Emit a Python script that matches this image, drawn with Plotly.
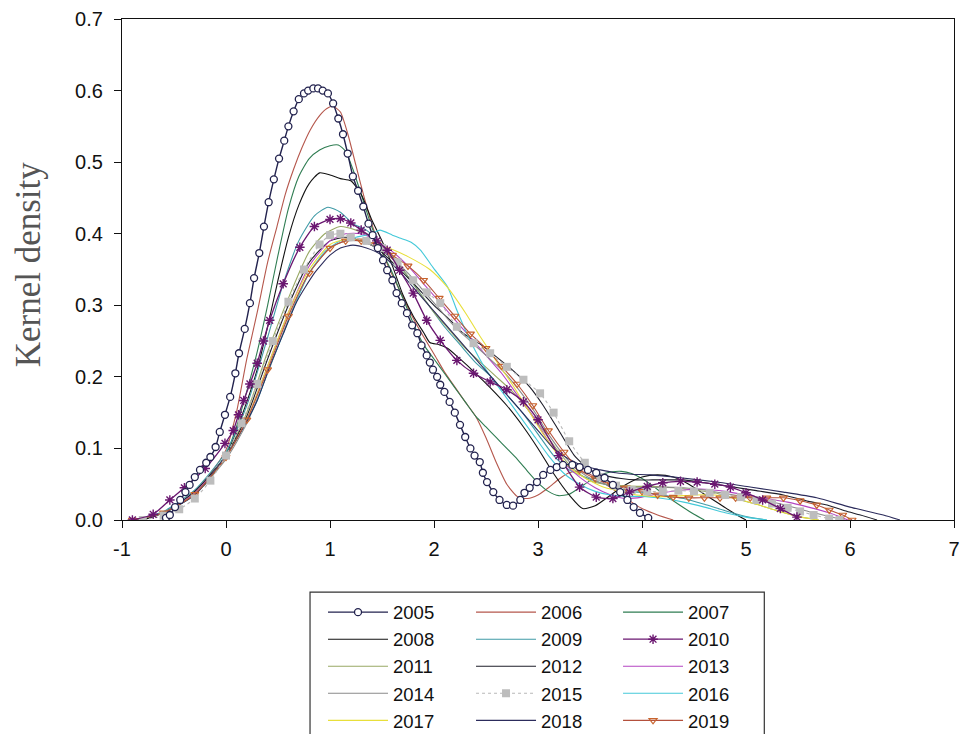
import plotly.graph_objects as go

YEARS = ["2005", "2006", "2007", "2008", "2009", "2010", "2011", "2012",
         "2013", "2014", "2015", "2016", "2017", "2018", "2019"]

X_2005 = [-0.577, -0.54, -0.49, -0.44, -0.39, -0.35, -0.30, -0.25, -0.19, -0.15, -0.10, -0.06, -0.01, 0.04, 0.09,
          0.125, 0.18, 0.23, 0.27, 0.32, 0.365, 0.41, 0.46, 0.51, 0.56, 0.60, 0.65, 0.70, 0.75, 0.79, 0.84, 0.885,
          0.93, 0.98, 1.03, 1.08, 1.125, 1.17, 1.22, 1.27, 1.32, 1.37, 1.41, 1.46, 1.51, 1.55, 1.60, 1.64, 1.69,
          1.74, 1.79, 1.84, 1.88, 1.93, 1.96, 1.99, 2.03, 2.06, 2.10, 2.15, 2.20, 2.25, 2.30, 2.35, 2.39, 2.44,
          2.47, 2.51, 2.57, 2.63, 2.70, 2.76, 2.83, 2.87, 2.92, 2.99, 3.05, 3.12, 3.18, 3.24, 3.33, 3.40, 3.48,
          3.56, 3.64, 3.72, 3.79, 3.86, 3.92, 3.98, 4.06]
Y_2005 = [0.003, 0.007, 0.018, 0.028, 0.039, 0.049, 0.060, 0.070, 0.080, 0.088, 0.102, 0.123, 0.147, 0.172, 0.205,
          0.233, 0.267, 0.303, 0.338, 0.373, 0.410, 0.444, 0.476, 0.505, 0.530, 0.550, 0.571, 0.588, 0.596, 0.600,
          0.603, 0.603, 0.600, 0.596, 0.582, 0.561, 0.539, 0.512, 0.480, 0.460, 0.438, 0.414, 0.398, 0.380, 0.363,
          0.349, 0.335, 0.317, 0.303, 0.289, 0.272, 0.261, 0.244, 0.230, 0.220, 0.210, 0.200, 0.189, 0.179, 0.165,
          0.150, 0.133, 0.116, 0.100, 0.090, 0.081, 0.066, 0.053, 0.039, 0.028, 0.021, 0.020, 0.028, 0.038, 0.045,
          0.053, 0.063, 0.070, 0.074, 0.077, 0.077, 0.074, 0.070, 0.066, 0.059, 0.049, 0.039, 0.028, 0.018, 0.010,
          0.003]

X_2006 = [-0.8, -0.6, -0.4, -0.2, 0.0, 0.1, 0.2, 0.3, 0.4, 0.49, 0.57, 0.65, 0.73, 0.81, 0.9, 0.97, 1.03, 1.1,
          1.17, 1.25, 1.33, 1.41, 1.5, 1.6, 1.7, 1.8, 1.9, 2.0, 2.1, 2.2, 2.3, 2.4, 2.5, 2.6, 2.7, 2.8, 2.9, 3.0,
          3.1, 3.2, 3.3, 3.4, 3.5, 3.6, 3.7, 3.8, 3.9, 4.0, 4.15, 4.3]
Y_2006 = [0.0, 0.01, 0.028, 0.055, 0.098, 0.15, 0.225, 0.29, 0.36, 0.41, 0.455, 0.49, 0.52, 0.545, 0.565, 0.575,
          0.578, 0.57, 0.54, 0.495, 0.45, 0.41, 0.375, 0.342, 0.312, 0.282, 0.256, 0.232, 0.207, 0.186, 0.165,
          0.145, 0.115, 0.08, 0.05, 0.033, 0.03, 0.035, 0.045, 0.057, 0.066, 0.068, 0.064, 0.055, 0.045, 0.035,
          0.025, 0.016, 0.007, 0.0]

X_2007 = [-0.8, -0.6, -0.4, -0.2, 0.0, 0.1, 0.2, 0.3, 0.4, 0.5, 0.6, 0.7, 0.8, 0.9, 1.0, 1.08, 1.15, 1.22, 1.3,
          1.4, 1.5, 1.6, 1.7, 1.8, 1.9, 2.0, 2.1, 2.2, 2.3, 2.4, 2.5, 2.6, 2.7, 2.8, 2.9, 3.0, 3.1, 3.2, 3.3, 3.4,
          3.5, 3.6, 3.7, 3.8, 3.9, 4.0, 4.1, 4.2, 4.35, 4.5, 4.6]
Y_2007 = [0.0, 0.01, 0.027, 0.052, 0.092, 0.13, 0.18, 0.235, 0.3, 0.37, 0.435, 0.48, 0.505, 0.517, 0.523, 0.524,
          0.515, 0.49, 0.455, 0.41, 0.375, 0.345, 0.31, 0.275, 0.245, 0.225, 0.205, 0.185, 0.165, 0.145, 0.13,
          0.115, 0.1, 0.085, 0.068, 0.052, 0.04, 0.034, 0.036, 0.045, 0.055, 0.063, 0.067, 0.068, 0.065, 0.058,
          0.048, 0.037, 0.022, 0.008, 0.0]

X_2008 = [-0.8, -0.6, -0.4, -0.2, 0.0, 0.1, 0.2, 0.3, 0.4, 0.5, 0.6, 0.7, 0.8, 0.9, 1.0, 1.1, 1.2, 1.3, 1.4, 1.5,
          1.6, 1.7, 1.8, 1.9, 1.96, 2.05, 2.13, 2.25, 2.4, 2.54, 2.7, 2.86, 3.0, 3.15, 3.3, 3.43, 3.55, 3.7, 3.85,
          4.0, 4.15, 4.3, 4.45, 4.6, 4.75, 4.9, 5.0]
Y_2008 = [0.0, 0.01, 0.026, 0.05, 0.09, 0.125, 0.165, 0.21, 0.27, 0.335, 0.395, 0.44, 0.47, 0.485, 0.482, 0.477,
          0.474, 0.455, 0.42, 0.39, 0.355, 0.315, 0.285, 0.262, 0.248, 0.245, 0.24, 0.225, 0.205, 0.185, 0.16,
          0.13, 0.1, 0.065, 0.035, 0.016, 0.02, 0.035, 0.05, 0.06, 0.063, 0.06, 0.05, 0.036, 0.022, 0.008, 0.0]

X_2009 = [-0.9, -0.6, -0.3, 0.0, 0.2, 0.4, 0.55, 0.7, 0.85, 0.98, 1.1, 1.22, 1.35, 1.5, 1.65, 1.8, 1.95, 2.1,
          2.25, 2.4, 2.55, 2.7, 2.85, 3.0, 3.15, 3.3, 3.45, 3.6, 3.75, 3.9, 4.05, 4.2, 4.4, 4.6, 4.8, 5.0, 5.2]
Y_2009 = [0.0, 0.012, 0.042, 0.095, 0.16, 0.255, 0.33, 0.39, 0.425, 0.437, 0.43, 0.414, 0.405, 0.385, 0.36,
          0.33, 0.3, 0.27, 0.245, 0.22, 0.2, 0.175, 0.15, 0.12, 0.09, 0.07, 0.06, 0.052, 0.045, 0.04, 0.038,
          0.035, 0.03, 0.022, 0.013, 0.005, 0.0]

X_2010 = [-0.9, -0.7, -0.54, -0.4, -0.2, -0.01, 0.07, 0.12, 0.17, 0.23, 0.3, 0.36, 0.42, 0.55, 0.71, 0.85, 1.0,
          1.1, 1.2, 1.3, 1.45, 1.55, 1.67, 1.8, 1.93, 2.06, 2.22, 2.38, 2.54, 2.7, 2.86, 3.0, 3.2, 3.4, 3.56,
          3.72, 3.88, 4.05, 4.2, 4.37, 4.53, 4.7, 4.85, 5.0, 5.16, 5.33, 5.49]
Y_2010 = [0.0, 0.008, 0.028, 0.045, 0.072, 0.107, 0.125, 0.147, 0.167, 0.19, 0.219, 0.25, 0.279, 0.33, 0.381,
          0.41, 0.42, 0.421, 0.415, 0.405, 0.39, 0.377, 0.349, 0.317, 0.279, 0.251, 0.223, 0.205, 0.193, 0.182,
          0.165, 0.14, 0.09, 0.046, 0.032, 0.03, 0.039, 0.047, 0.052, 0.054, 0.053, 0.05, 0.046, 0.038, 0.028,
          0.016, 0.004]

X_2011 = [-0.9, -0.6, -0.3, 0.0, 0.2, 0.4, 0.6, 0.8, 0.95, 1.1, 1.25, 1.4, 1.55, 1.7, 1.85, 2.0, 2.15, 2.3, 2.45,
          2.6, 2.75, 2.9, 3.05, 3.2, 3.35, 3.5, 3.65, 3.8, 3.95, 4.1, 4.3, 4.5, 4.7, 4.9, 5.1, 5.3, 5.5, 5.7]
Y_2011 = [0.0, 0.01, 0.038, 0.09, 0.15, 0.235, 0.31, 0.375, 0.4, 0.41, 0.405, 0.395, 0.375, 0.35, 0.32, 0.29,
          0.265, 0.24, 0.22, 0.2, 0.18, 0.155, 0.125, 0.095, 0.07, 0.055, 0.05, 0.048, 0.047, 0.047, 0.045, 0.042,
          0.038, 0.03, 0.022, 0.013, 0.005, 0.0]

X_2012 = [-0.9, -0.6, -0.3, 0.0, 0.2, 0.4, 0.6, 0.8, 1.0, 1.15, 1.3, 1.45, 1.6, 1.8, 2.0, 2.15, 2.28, 2.45, 2.6,
          2.75, 2.92, 3.05, 3.2, 3.35, 3.5, 3.65, 3.8, 3.95, 4.1, 4.25, 4.4, 4.6, 4.88, 5.1, 5.36, 5.6, 5.78,
          5.95, 6.1, 6.26]
Y_2012 = [0.0, 0.01, 0.04, 0.09, 0.145, 0.225, 0.3, 0.36, 0.39, 0.395, 0.39, 0.38, 0.36, 0.331, 0.3, 0.28,
          0.261, 0.245, 0.228, 0.21, 0.186, 0.16, 0.125, 0.09, 0.07, 0.062, 0.058, 0.056, 0.056, 0.056, 0.056,
          0.052, 0.046, 0.041, 0.035, 0.026, 0.021, 0.013, 0.007, 0.0]

X_2013 = [-0.9, -0.6, -0.3, 0.0, 0.2, 0.4, 0.6, 0.8, 1.0, 1.15, 1.3, 1.45, 1.6, 1.75, 1.9, 2.05, 2.2, 2.35, 2.5,
          2.65, 2.8, 2.95, 3.1, 3.25, 3.4, 3.55, 3.7, 3.85, 4.0, 4.2, 4.4, 4.6, 4.8, 5.0, 5.2, 5.4, 5.6, 5.8, 5.98]
Y_2013 = [0.0, 0.01, 0.038, 0.088, 0.14, 0.215, 0.29, 0.355, 0.39, 0.4, 0.4, 0.39, 0.375, 0.355, 0.33, 0.305,
          0.28, 0.255, 0.23, 0.205, 0.175, 0.145, 0.11, 0.08, 0.06, 0.045, 0.035, 0.03, 0.032, 0.038, 0.042,
          0.043, 0.04, 0.035, 0.03, 0.025, 0.018, 0.01, 0.0]

X_2014 = [-0.9, -0.6, -0.3, 0.0, 0.2, 0.4, 0.6, 0.8, 1.0, 1.15, 1.3, 1.45, 1.6, 1.75, 1.9, 2.05, 2.2, 2.35, 2.5,
          2.65, 2.8, 2.95, 3.1, 3.25, 3.4, 3.55, 3.7, 3.85, 4.0, 4.2, 4.4, 4.6, 4.8, 5.0, 5.2, 5.4, 5.6, 5.8, 5.95]
Y_2014 = [0.0, 0.01, 0.036, 0.085, 0.135, 0.205, 0.28, 0.345, 0.38, 0.39, 0.39, 0.38, 0.365, 0.345, 0.32, 0.295,
          0.27, 0.25, 0.23, 0.21, 0.185, 0.155, 0.12, 0.09, 0.068, 0.055, 0.048, 0.045, 0.045, 0.046, 0.045,
          0.042, 0.037, 0.032, 0.027, 0.02, 0.012, 0.005, 0.0]

X_2015 = [-0.8, -0.6, -0.45, -0.3, -0.15, 0.0, 0.15, 0.3, 0.45, 0.6, 0.75, 0.9, 1.0, 1.1, 1.2, 1.35, 1.5, 1.65,
          1.8, 1.93, 2.06, 2.22, 2.38, 2.54, 2.7, 2.86, 3.02, 3.15, 3.3, 3.45, 3.6, 3.75, 3.9, 4.05, 4.2, 4.35,
          4.5, 4.65, 4.8, 4.95, 5.1, 5.25, 5.4, 5.52, 5.65, 5.8, 5.9]
Y_2015 = [0.0, 0.006, 0.015, 0.03, 0.055, 0.09, 0.135, 0.19, 0.25, 0.305, 0.35, 0.385, 0.398, 0.4, 0.395, 0.39,
          0.38, 0.36, 0.335, 0.318, 0.303, 0.27, 0.247, 0.233, 0.214, 0.196, 0.177, 0.15, 0.11, 0.08, 0.06,
          0.048, 0.042, 0.04, 0.04, 0.041, 0.04, 0.038, 0.035, 0.032, 0.028, 0.023, 0.017, 0.012, 0.007, 0.002,
          0.0]

X_2016 = [-0.9, -0.6, -0.3, 0.0, 0.17, 0.3, 0.42, 0.55, 0.68, 0.8, 0.95, 1.1, 1.25, 1.4, 1.48, 1.6, 1.67, 1.78,
          1.87, 1.99, 2.13, 2.22, 2.35, 2.5, 2.65, 2.8, 2.95, 3.1, 3.25, 3.4, 3.55, 3.7, 3.85, 4.0, 4.2, 4.4,
          4.6, 4.8, 5.0, 5.2]
Y_2016 = [0.0, 0.01, 0.035, 0.09, 0.13, 0.167, 0.214, 0.26, 0.307, 0.345, 0.375, 0.39, 0.395, 0.4, 0.405,
          0.398, 0.394, 0.388, 0.377, 0.353, 0.326, 0.293, 0.25, 0.21, 0.18, 0.15, 0.12, 0.09, 0.065, 0.05, 0.04,
          0.035, 0.033, 0.033, 0.03, 0.025, 0.018, 0.01, 0.004, 0.0]

X_2017 = [-0.9, -0.6, -0.3, 0.0, 0.2, 0.4, 0.6, 0.8, 1.0, 1.15, 1.3, 1.45, 1.6, 1.75, 1.96, 2.13, 2.3, 2.45, 2.6,
          2.75, 2.9, 3.05, 3.2, 3.35, 3.5, 3.65, 3.8, 3.95, 4.1, 4.3, 4.5, 4.7, 4.9, 5.1, 5.3, 5.5, 5.7]
Y_2017 = [0.0, 0.01, 0.036, 0.088, 0.14, 0.215, 0.29, 0.35, 0.385, 0.392, 0.39, 0.385, 0.378, 0.368, 0.35,
          0.325, 0.29, 0.255, 0.222, 0.19, 0.155, 0.12, 0.09, 0.068, 0.055, 0.045, 0.04, 0.035, 0.033, 0.033,
          0.035, 0.035, 0.03, 0.022, 0.013, 0.005, 0.0]

X_2018 = [-0.9, -0.6, -0.3, 0.0, 0.17, 0.3, 0.42, 0.55, 0.68, 0.85, 1.0, 1.1, 1.22, 1.35, 1.5, 1.65, 1.8, 1.95,
          2.1, 2.25, 2.4, 2.55, 2.7, 2.85, 3.0, 3.15, 3.3, 3.45, 3.6, 3.75, 3.9, 4.08, 4.37, 4.72, 5.04, 5.36,
          5.68, 6.0, 6.32, 6.48]
Y_2018 = [0.0, 0.01, 0.035, 0.09, 0.13, 0.167, 0.214, 0.26, 0.305, 0.345, 0.37, 0.38, 0.384, 0.38, 0.37, 0.35,
          0.325, 0.3, 0.275, 0.25, 0.225, 0.2, 0.175, 0.15, 0.125, 0.1, 0.085, 0.075, 0.07, 0.066, 0.064, 0.063,
          0.059, 0.053, 0.046, 0.039, 0.031, 0.018, 0.007, 0.0]

X_2019 = [-0.9, -0.6, -0.3, 0.0, 0.2, 0.4, 0.6, 0.8, 1.0, 1.15, 1.3, 1.45, 1.6, 1.75, 1.9, 2.05, 2.2, 2.35, 2.5,
          2.65, 2.8, 2.95, 3.1, 3.25, 3.4, 3.55, 3.7, 3.85, 4.0, 4.15, 4.3, 4.45, 4.6, 4.75, 4.9, 5.04, 5.2,
          5.36, 5.52, 5.68, 5.8, 5.93, 6.02]
Y_2019 = [0.0, 0.01, 0.036, 0.088, 0.14, 0.21, 0.285, 0.345, 0.38, 0.39, 0.39, 0.385, 0.37, 0.355, 0.335, 0.31,
          0.285, 0.26, 0.24, 0.215, 0.19, 0.16, 0.125, 0.095, 0.07, 0.058, 0.05, 0.045, 0.04, 0.035, 0.032,
          0.031, 0.031, 0.031, 0.031, 0.031, 0.031, 0.031, 0.027, 0.021, 0.014, 0.007, 0.0]

X_TICKS = [-1, 0, 1, 2, 3, 4, 5, 6, 7]
Y_TICKS = [0.0, 0.1, 0.2, 0.3, 0.4, 0.5, 0.6, 0.7]
Y_TICK_LABELS = ["0.0", "0.1", "0.2", "0.3", "0.4", "0.5", "0.6", "0.7"]

SERIES = {
    "2005": (X_2005, Y_2005), "2006": (X_2006, Y_2006), "2007": (X_2007, Y_2007),
    "2008": (X_2008, Y_2008), "2009": (X_2009, Y_2009), "2010": (X_2010, Y_2010),
    "2011": (X_2011, Y_2011), "2012": (X_2012, Y_2012), "2013": (X_2013, Y_2013),
    "2014": (X_2014, Y_2014), "2015": (X_2015, Y_2015), "2016": (X_2016, Y_2016),
    "2017": (X_2017, Y_2017), "2018": (X_2018, Y_2018), "2019": (X_2019, Y_2019),
}

STYLE = {
    "2005": dict(color="#22224e", width=1.4, marker=dict(symbol="circle", size=7, color="white",
                                                         line=dict(color="#22224e", width=1.3))),
    "2006": dict(color="#b5574c", width=1.1),
    "2007": dict(color="#2f7d52", width=1.1),
    "2008": dict(color="#111111", width=1.1),
    "2009": dict(color="#3f9aa6", width=1.1),
    "2010": dict(color="#6a1670", width=1.3, marker=dict(symbol="asterisk-open", size=8, color="#6a1670",
                                                         line=dict(color="#6a1670", width=1.4))),
    "2011": dict(color="#98a864", width=1.1),
    "2012": dict(color="#1e1e2a", width=1.1),
    "2013": dict(color="#b445c2", width=1.1),
    "2014": dict(color="#8a8a8a", width=1.1),
    "2015": dict(color="#b8b8b8", width=1.1, dash="dot", marker=dict(symbol="square", size=8, color="#bdbdbd")),
    "2016": dict(color="#44c9d9", width=1.1),
    "2017": dict(color="#e8df3a", width=1.1),
    "2018": dict(color="#2c2c5c", width=1.1),
    "2019": dict(color="#b4503c", width=1.1, marker=dict(symbol="triangle-down-open", size=7, color="#c8642e",
                                                         line=dict(color="#c8642e", width=1.2))),
}

# drawing order (later = on top); the legends keep chronological order via legendrank
DRAW_ORDER = ["2006", "2007", "2008", "2009", "2011", "2012", "2013", "2014", "2016", "2017",
              "2018", "2019", "2015", "2010", "2005"]
LEGEND_NAMES = ["legend", "legend2", "legend3"]

fig = go.Figure()
for yr in DRAW_ORDER:
    i = YEARS.index(yr)
    xs, ys = SERIES[yr]
    st = STYLE[yr]
    has_marker = "marker" in st
    fig.add_trace(go.Scatter(
        x=xs, y=ys, name=yr,
        mode="lines+markers" if has_marker else "lines",
        line=dict(color=st["color"], width=st["width"], shape="spline", smoothing=0.6,
                  dash=st.get("dash", "solid")),
        marker=st.get("marker"),
        legend=LEGEND_NAMES[i % 3],
        legendrank=1000 + i,
        hoverinfo="skip",
    ))

FONT = "Liberation Sans, Arial, sans-serif"
leg_common = dict(orientation="v", yanchor="top", xanchor="left", y=-0.147,
                  bgcolor="rgba(0,0,0,0)", borderwidth=0,
                  font=dict(family=FONT, size=18.5, color="#111111"),
                  tracegroupgap=0, itemwidth=60)

fig.update_layout(
    width=966, height=734,
    margin=dict(l=122, r=12, t=19, b=214, autoexpand=False),
    paper_bgcolor="white", plot_bgcolor="white",
    showlegend=True,
    legend=dict(x=0.2416, **leg_common),
    legend2=dict(x=0.4195, **leg_common),
    legend3=dict(x=0.5962, **leg_common),
    xaxis=dict(range=[-1, 7], tickvals=X_TICKS, ticktext=[str(v) for v in X_TICKS],
               showline=True, linecolor="#111111", linewidth=1.2, mirror=True,
               ticks="outside", ticklen=7, tickcolor="#111111", tickwidth=1.2,
               showgrid=False, zeroline=False, ticklabelstandoff=4,
               tickfont=dict(family=FONT, size=20, color="#111111")),
    yaxis=dict(range=[0, 0.7], tickvals=Y_TICKS, ticktext=Y_TICK_LABELS,
               showline=True, linecolor="#111111", linewidth=1.2, mirror=True,
               ticks="outside", ticklen=7, tickcolor="#111111", tickwidth=1.2,
               showgrid=False, zeroline=False, ticklabelstandoff=7,
               tickfont=dict(family=FONT, size=20, color="#111111")),
    annotations=[dict(text="Kernel density", xref="paper", yref="paper", x=-0.112, y=0.51,
                      xanchor="center", yanchor="middle", textangle=-90, showarrow=False,
                      font=dict(family="Liberation Serif, Times New Roman, serif", size=35, color="#555555"))],
    shapes=[dict(type="rect", xref="paper", yref="paper", x0=0.226, x1=0.772, y0=-0.144, y1=-0.45,
                 line=dict(color="#333333", width=1.2), fillcolor="rgba(0,0,0,0)", layer="above")],
)

fig.write_html("out.html")
